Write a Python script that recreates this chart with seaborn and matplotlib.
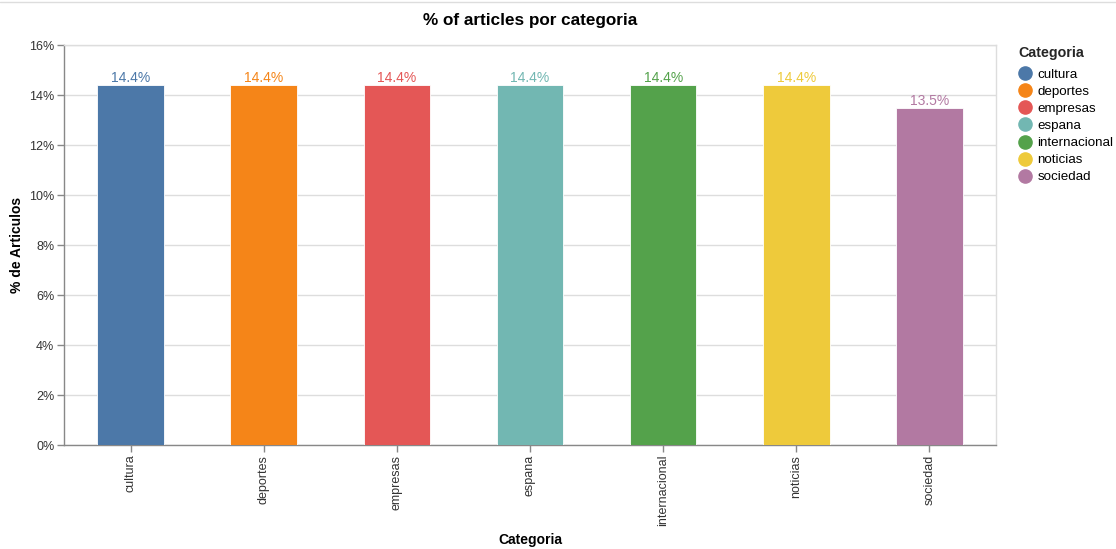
import matplotlib
matplotlib.use("Agg")
import matplotlib.pyplot as plt
from matplotlib.lines import Line2D
from matplotlib.ticker import PercentFormatter
import seaborn as sns
import pandas as pd

categories = ["cultura", "deportes", "empresas", "espana", "internacional", "noticias", "sociedad"]
percentages = [14.42, 14.42, 14.42, 14.42, 14.42, 14.42, 13.48]
colors = ["#4c78a8", "#f58518", "#e45756", "#72b7b2", "#54a24b", "#eeca3b", "#b279a2"]
y_ticks = [0, 2, 4, 6, 8, 10, 12, 14, 16]

sns.set_theme(style="white")
plt.rcParams["font.family"] = ["Liberation Sans", "DejaVu Sans"]

df = pd.DataFrame({"Categoria": categories, "pct": percentages})
palette = dict(zip(categories, colors))

fig = plt.figure(figsize=(11.16, 5.49), dpi=100)
ax = fig.add_axes([64 / 1116, 1 - 445 / 549, (996 - 64) / 1116, (445 - 45) / 549])

sns.barplot(data=df, x="Categoria", y="pct", hue="Categoria", palette=palette,
            order=categories, hue_order=categories, width=0.5, legend=False,
            ax=ax, saturation=1, edgecolor="white", linewidth=0.6, zorder=3)

for cont, c in zip(ax.containers, colors):
    ax.bar_label(cont, labels=[f"{v:.1f}%" for v in cont.datavalues], padding=0,
                 color=c, fontsize=10)

ax.set_ylim(0, 16)
ax.set_xlim(-0.5, len(categories) - 0.5)
ax.set_yticks(y_ticks)
ax.yaxis.set_major_formatter(PercentFormatter(decimals=0))
ax.grid(axis="y", color="#dddddd", linewidth=1, zorder=0)
ax.set_axisbelow(True)

for s in ["top", "right"]:
    ax.spines[s].set_color("#dddddd")
    ax.spines[s].set_linewidth(1)
for s in ["left", "bottom"]:
    ax.spines[s].set_color("#888888")
    ax.spines[s].set_linewidth(1)

ax.tick_params(axis="both", which="major", length=5, width=1, color="#888888",
               labelcolor="#333333", labelsize=9, pad=2, left=True, bottom=True)
plt.setp(ax.get_xticklabels(), rotation=90, va="top", ha="center")

ax.set_xlabel("Categoria", fontsize=10, fontweight="bold", color="#000000")
ax.set_ylabel("% de Articulos", fontsize=10, fontweight="bold", color="#000000")
ax.xaxis.set_label_coords(0.5, -(540 - 445) / 400, transform=ax.transAxes)
ax.xaxis.label.set_va("center")
ax.yaxis.set_label_coords(-(64 - 17) / 932, 0.5, transform=ax.transAxes)
ax.yaxis.label.set_va("center")

fig.text(530 / 1116, 1 - 21 / 549, "% of articles por categoria", ha="center", va="center",
         fontsize=12.3, fontweight="bold", color="#000000")

handles = [Line2D([0], [0], marker="o", linestyle="none", markersize=9.5,
                  markerfacecolor=c, markeredgecolor=c) for c in colors]
leg = fig.legend(handles, categories, title="Categoria", loc="upper left",
                 bbox_to_anchor=(1018 / 1116, 1 - 46 / 549), frameon=False,
                 fontsize=9.6, title_fontproperties={"weight": "bold", "size": 10.3},
                 labelspacing=0.36, handletextpad=0.35, handlelength=1.1,
                 borderaxespad=0, borderpad=0)
leg._legend_box.align = "left"
leg._legend_box.sep = 6
for t in leg.get_texts():
    t.set_color("#000000")

fig.add_artist(Line2D([0, 1], [1 - 2 / 549, 1 - 2 / 549], color="#dddddd", linewidth=1))

fig.savefig("out.png", dpi=100, facecolor="white")
